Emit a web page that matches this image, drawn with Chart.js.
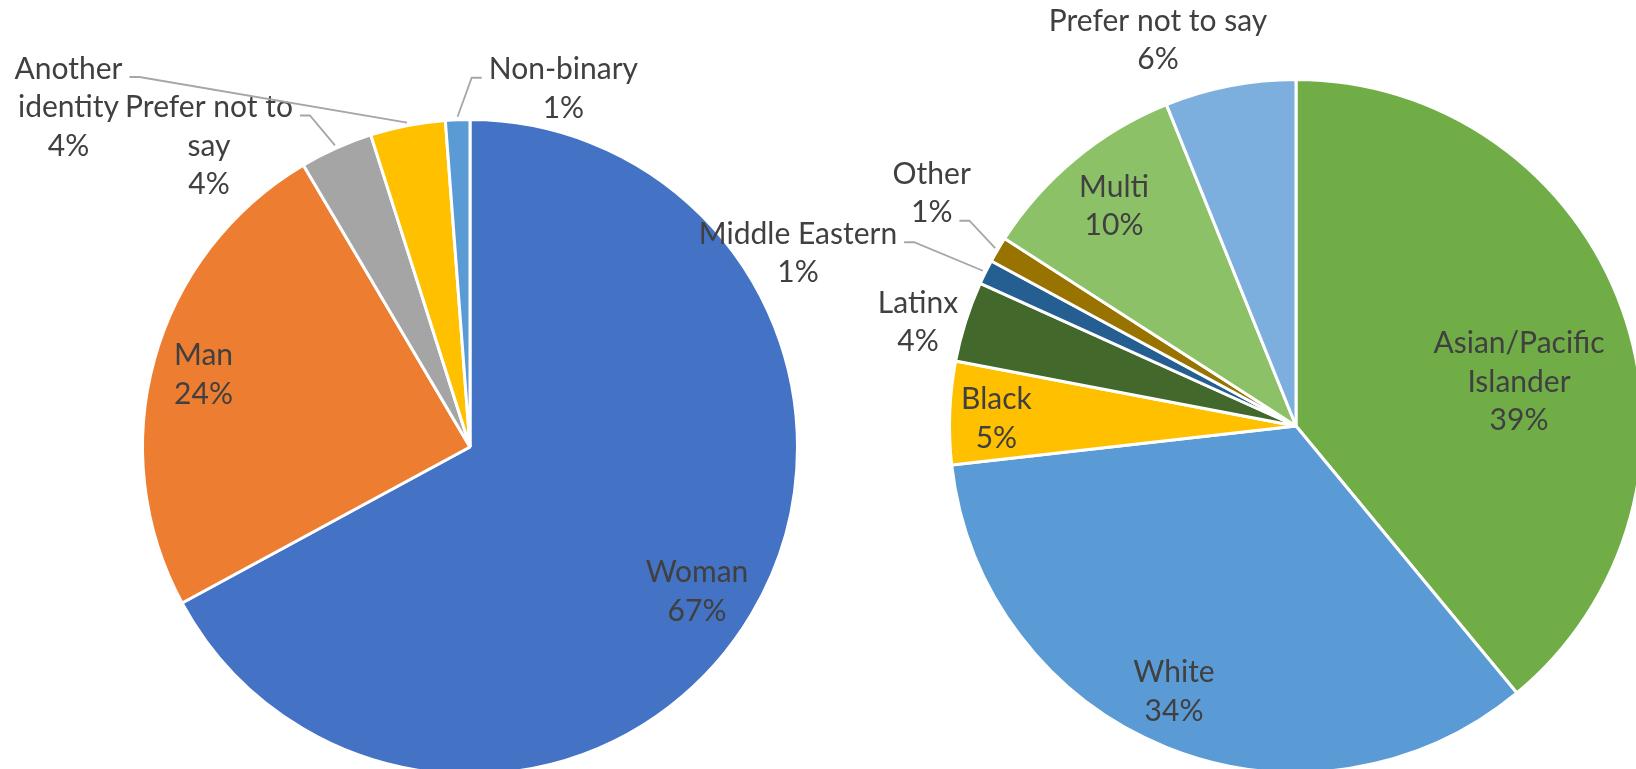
<!DOCTYPE html>
<html>
<head>
<meta charset="utf-8">
<script src="https://cdn.jsdelivr.net/npm/chart.js@4.4.0/dist/chart.umd.min.js"></script>
<style>
    html, body { margin: 0; padding: 0; background: #fff; overflow: hidden; width: 1636px; height: 769px; }
    canvas { position: absolute; left: 0; top: 0; }
</style>
</head>
<body>
<canvas id="gender" width="1700" height="800"></canvas>
<canvas id="race" width="1700" height="800"></canvas>
<script>
// gender pie
var genderLabels = ['Woman', 'Man', 'Prefer not to say', 'Another identity', 'Non-binary'];
var genderValues = [67.1, 24.4, 3.6, 3.7, 1.2];
var genderColors = ['#4472C4', '#ED7D31', '#A5A5A5', '#FFC000', '#5B9BD5'];

// race / ethnicity pie
var raceLabels = ['Asian/Pacific Islander', 'White', 'Black', 'Latinx', 'Middle Eastern', 'Other', 'Multi', 'Prefer not to say'];
var raceValues = [39.0, 34.2, 4.8, 3.75, 1.15, 1.2, 9.8, 6.1];
var raceColors = ['#70AD47', '#5B9BD5', '#FFC000', '#43682B', '#255E91', '#997300', '#8CC168', '#7CAFDD'];

// how the label text wraps
var wrap = {
    'Prefer not to say|g': ['Prefer not to', 'say'],
    'Another identity|g': ['Another', 'identity'],
    'Asian/Pacific Islander|r': ['Asian/Pacific', 'Islander']
};

// label block centres, offset from pie centre; lead = line the leader line attaches to
var genderPlace = [
    { dx: 227, dy: 145 },
    { dx: -266.5, dy: -72.4 },
    { dx: -261, dy: -301, lead: 0 },
    { dx: -401.5, dy: -339.5, lead: 0 },
    { dx: 93.4, dy: -358, lead: 0 }
];
var racePlace = [
    { dx: 223, dy: -44 },
    { dx: -122, dy: 266 },
    { dx: -299.6, dy: -7 },
    { dx: -378, dy: -103.7 },
    { dx: -498, dy: -172.5, lead: 0 },
    { dx: -364.3, dy: -232.5, lead: 1 },
    { dx: -182, dy: -219.5 },
    { dx: -138, dy: -385.75 }
];

var LINE_H = 38.5;
var FONT = '30px Lato';

function labelPlugin(place, tag) {
    return {
        id: 'pieLabels' + tag,
        afterDatasetsDraw: function(chart) {
            var ctx = chart.ctx;
            var meta = chart.getDatasetMeta(0);
            var vals = chart.data.datasets[0].data;
            var total = vals.reduce(function(a, b) { return a + b; }, 0);
            ctx.save();
            ctx.font = FONT;
            ctx.textAlign = 'center';
            ctx.textBaseline = 'middle';
            meta.data.forEach(function(arc, i) {
                var p = place[i];
                var name = chart.data.labels[i];
                var lines = (wrap[name + '|' + tag] || [name]).slice();
                lines.push(Math.round(vals[i] / total * 100) + '%');
                var cx = arc.x + p.dx, cy = arc.y + p.dy;
                var y0 = cy - (lines.length - 1) / 2 * LINE_H;
                ctx.fillStyle = '#404040';
                lines.forEach(function(t, k) {
                    ctx.fillText(t, cx, y0 + k * LINE_H);
                });
                if (p.lead !== undefined) {
                    var mid = (arc.startAngle + arc.endAngle) / 2;
                    var r = arc.outerRadius + 3;
                    var px = arc.x + Math.cos(mid) * r, py = arc.y + Math.sin(mid) * r;
                    var w = ctx.measureText(lines[p.lead]).width;
                    var ly = y0 + p.lead * LINE_H + 8;
                    var dir = px > cx ? 1 : -1;
                    var sx = cx + dir * (w / 2 + 7);
                    ctx.strokeStyle = '#A6A6A6';
                    ctx.lineWidth = 1.8;
                    ctx.beginPath();
                    ctx.moveTo(sx, ly);
                    ctx.lineTo(sx + dir * 10, ly);
                    ctx.lineTo(px, py);
                    ctx.stroke();
                }
            });
            ctx.restore();
        }
    };
}

function makePie(id, labels, values, colors, pad, place, tag) {
    return new Chart(document.getElementById(id), {
        type: 'pie',
        data: {
            labels: labels,
            datasets: [{
                data: values,
                backgroundColor: colors,
                borderColor: '#ffffff',
                borderWidth: 3
            }]
        },
        options: {
            responsive: false,
            animation: false,
            devicePixelRatio: 1,
            layout: { padding: pad },
            plugins: {
                legend: { display: false },
                tooltip: { enabled: false }
            }
        },
        plugins: [labelPlugin(place, tag)]
    });
}

makePie('gender', genderLabels, genderValues, genderColors,
    { left: 141, top: 118, right: 901, bottom: 24 }, genderPlace, 'g');
makePie('race', raceLabels, raceValues, raceColors,
    { left: 948, top: 78, right: 56, bottom: 26 }, racePlace, 'r');
</script>
</body>
</html>
